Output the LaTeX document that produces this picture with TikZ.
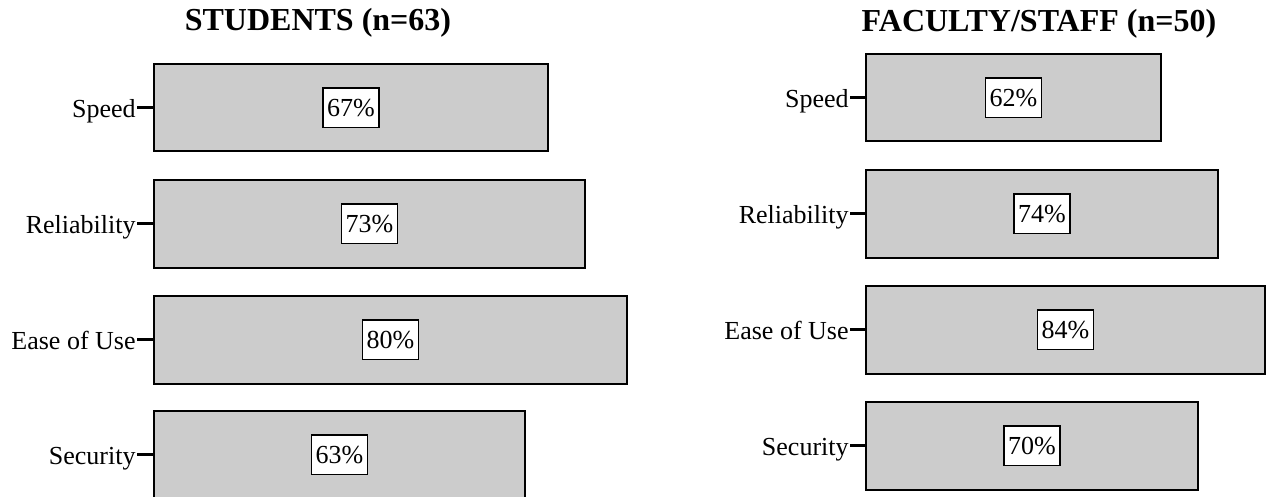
\documentclass[tikz,border=0pt]{standalone}
\usepackage{fontspec}
\setmainfont{Liberation Serif}
\usetikzlibrary{positioning, calc}
\definecolor{barfill}{HTML}{CCCCCC}
\definecolor{ink}{HTML}{000000}

\tikzset{
  bar/.style={draw=ink, fill=barfill, line width=1pt, anchor=north west,
              inner sep=0pt, minimum height=43.75pt},
  pct/.style={draw=ink, fill=white, line width=0.8pt, inner xsep=2pt, inner ysep=5.5pt,
              font=\fontsize{13}{15}\selectfont},
  lbl/.style={anchor=base east, inner sep=0.5pt, font=\fontsize{13}{15}\selectfont},
  ticker/.style={draw=ink, line width=1.5pt},
  ttl/.style={anchor=base, font=\fontsize{16}{19}\selectfont\bfseries}
}

\begin{document}
\begin{tikzpicture}[x=0.5pt, y=-0.5pt]

% Canvas
\useasboundingbox (0,0) rectangle (1267,497);

% =========== Students ===========
\node[ttl] (s-title) at (318,31) {STUDENTS (n=63)};

\node[bar, minimum width=197pt] (s-speed) at (153,63) {};
\node[bar, minimum width=215.5pt] (s-rel) at (153,179) {};
\node[bar, minimum width=236.5pt] (s-ease) at (153,295) {};
\node[bar, minimum width=185.5pt] (s-sec) at (153,410) {};

\node[pct] (s-speed-p) at (s-speed.center) {67\%};
\node[pct] (s-rel-p) at (s-rel.center) {73\%};
\node[pct] (s-ease-p) at (s-ease.center) {80\%};
\node[pct] (s-sec-p) at (s-sec.center) {63\%};

\node[lbl] (s-speed-l) at ([xshift=-8pt, yshift=-5pt]s-speed.west) {Speed};
\node[lbl] (s-rel-l) at ([xshift=-8pt, yshift=-5pt]s-rel.west) {Reliability};
\node[lbl] (s-ease-l) at ([xshift=-8pt, yshift=-5pt]s-ease.west) {Ease of Use};
\node[lbl] (s-sec-l) at ([xshift=-8pt, yshift=-5pt]s-sec.west) {Security};

\foreach \b in {speed, rel, ease, sec} {
  \draw[ticker] (s-\b.west) -- (s-\b.west -| s-\b-l.east);
}

% =========== Faculty / staff ===========
\node[ttl] (f-title) at (1039,32) {FACULTY/STAFF (n=50)};

\node[bar, minimum width=147.5pt] (f-speed) at (865,53) {};
\node[bar, minimum width=176pt] (f-rel) at (865,169) {};
\node[bar, minimum width=199.5pt] (f-ease) at (865,285) {};
\node[bar, minimum width=166pt] (f-sec) at (865,401) {};

\node[pct] (f-speed-p) at (f-speed.center) {62\%};
\node[pct] (f-rel-p) at (f-rel.center) {74\%};
\node[pct] (f-ease-p) at (f-ease.center) {84\%};
\node[pct] (f-sec-p) at (f-sec.center) {70\%};

\node[lbl] (f-speed-l) at ([xshift=-7.5pt, yshift=-5pt]f-speed.west) {Speed};
\node[lbl] (f-rel-l) at ([xshift=-7.5pt, yshift=-5pt]f-rel.west) {Reliability};
\node[lbl] (f-ease-l) at ([xshift=-7.5pt, yshift=-5pt]f-ease.west) {Ease of Use};
\node[lbl] (f-sec-l) at ([xshift=-7.5pt, yshift=-5pt]f-sec.west) {Security};

\foreach \b in {speed, rel, ease, sec} {
  \draw[ticker] (f-\b.west) -- (f-\b.west -| f-\b-l.east);
}

\end{tikzpicture}
\end{document}
